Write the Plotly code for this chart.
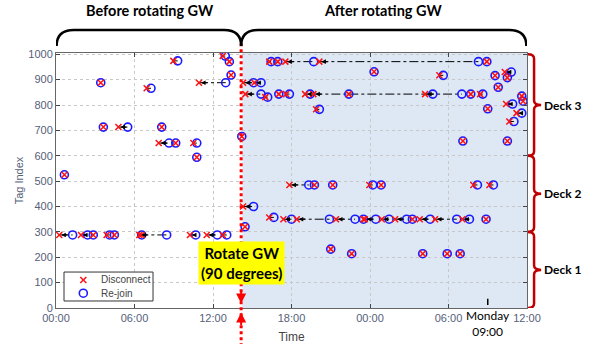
import plotly.graph_objects as go

# ---- data (hours since Sunday 00:00) ----
DISCONNECT_H = [
    0.64, 3.42, 3.62, 4.77, 6.93, 8.08, 8.97, 7.85, 9.15, 10.50, 10.76, 12.74, 13.25, 13.38, 10.93, 14.20,
    0.25, 1.91, 2.85, 3.87, 4.46, 6.37, 6.55, 10.24, 11.52, 12.75,
    14.30, 14.45, 14.30, 15.16,
    14.47, 16.00, 17.03, 17.58, 19.04, 19.67, 22.38, 28.21, 31.70, 32.42,
    16.30, 16.95, 17.53, 20.13, 32.93,
    19.88, 24.31, 29.30,
    17.84, 19.75, 21.15, 23.95, 24.85, 31.90, 33.13,
    16.30,
    17.38, 18.40, 21.40, 23.50, 23.60, 24.90, 25.92, 27.24, 27.80, 28.97, 31.06, 32.87,
    21.00, 22.60, 28.03, 29.90, 30.89,
    33.56, 34.30, 34.50, 33.80, 33.00, 35.60, 35.70, 34.40, 35.20, 34.65, 31.10, 34.50,
]
REJOIN_H = [
    0.64, 3.42, 3.62, 5.48, 7.26, 8.08, 9.30, 8.64, 9.15, 10.76, 10.76, 12.94, 13.25, 13.38, 12.97, 14.20,
    1.27, 2.42, 2.85, 4.10, 4.46, 8.46, 6.55, 10.68, 12.33, 13.05,
    15.10, 14.45, 15.10, 15.67,
    15.67, 16.18, 17.03, 17.84, 19.42, 28.80, 22.38, 31.02, 31.70, 32.62,
    16.44, 16.95, 19.70, 32.29, 32.93,
    20.13, 24.31, 29.60,
    19.32, 19.75, 21.15, 24.21, 24.85, 32.21, 33.43,
    16.65,
    18.00, 20.90, 22.86, 23.50, 24.44, 25.46, 26.80, 27.24, 28.60, 30.63, 31.60, 32.87,
    21.00, 22.60, 28.03, 29.90, 30.89,
    33.56, 34.80, 34.50, 33.80, 33.00, 35.60, 35.70, 34.90, 35.60, 35.00, 31.10, 34.50,
]
TAG_INDEX = [
    525, 888, 713, 713, 866, 713, 974, 650, 650, 650, 594, 993, 971, 918, 888, 676,
    288, 288, 288, 288, 288, 288, 288, 288, 288, 288,
    400, 320, 888, 888,
    843, 831, 843, 843, 843, 843, 843, 843, 843, 843,
    971, 971, 971, 971, 971,
    783, 931, 917,
    485, 485, 485, 485, 485, 485, 485,
    357,
    350, 350, 350, 350, 350, 350, 350, 350, 350, 350, 350, 350,
    232, 214, 214, 214, 214,
    916, 930, 908, 870, 785, 835, 815, 804, 768, 735, 658, 658,
]

X_TICK_VALS = [0, 6, 12, 18, 24, 30, 36]
X_TICK_TEXT = ["00:00", "06:00", "12:00", "18:00", "00:00", "06:00", "12:00"]
Y_TICK_VALS = list(range(0, 1001, 100))
ROTATE_H = 14.15
MONDAY_H = 33
DECKS = [("Deck 3", 600, 1000), ("Deck 2", 300, 600), ("Deck 1", 0, 300)]
LEGEND_LABELS = ["Disconnect", "Re-join"]

RED = "#ff1010"
BLUE = "#1a1aff"

# ---- figure ----
fig = go.Figure()

lx, ly = [], []
for d, r, t in zip(DISCONNECT_H, REJOIN_H, TAG_INDEX):
    if r - d > 0.05:
        lx += [d, r, None]
        ly += [t, t, None]
fig.add_trace(go.Scatter(x=lx, y=ly, mode="lines", showlegend=False, hoverinfo="skip",
                         line=dict(color="black", width=1, dash="dashdot")))

fig.add_trace(go.Scatter(x=REJOIN_H, y=TAG_INDEX, mode="markers", name=LEGEND_LABELS[1], showlegend=False,
                         marker=dict(symbol="circle-open", size=8, color=BLUE,
                                     line=dict(width=1.6, color=BLUE))))
fig.add_trace(go.Scatter(x=DISCONNECT_H, y=TAG_INDEX, mode="markers", name=LEGEND_LABELS[0], showlegend=False,
                         marker=dict(symbol="x-thin", size=6, color=RED,
                                     line=dict(width=1.5, color=RED))))

annotations = []
for d, r, t in zip(DISCONNECT_H, REJOIN_H, TAG_INDEX):
    if r - d >= 0.3:
        annotations.append(dict(x=d, y=t, ax=min(d + 0.75, r), ay=t, axref="x", ayref="y",
                                xref="x", yref="y", text="", showarrow=True, arrowhead=2,
                                arrowsize=0.7, arrowwidth=1.3, arrowcolor="black", standoff=2))

shapes = []
# shaded "after" region
shapes.append(dict(type="rect", xref="x", yref="paper", x0=ROTATE_H + 0.1, x1=X_TICK_VALS[-1],
                   y0=0, y1=1, fillcolor="#dde8f4", line=dict(width=0), layer="below"))
# rotation line
shapes.append(dict(type="line", xref="x", yref="paper", x0=ROTATE_H, x1=ROTATE_H,
                   y0=-0.15, y1=1.05, line=dict(color="red", width=3, dash="dot")))
# Monday 09:00 tick
shapes.append(dict(type="line", xref="x", yref="paper", x0=MONDAY_H, x1=MONDAY_H,
                   y0=0.012, y1=0.036, line=dict(color="black", width=1.5)))

# top braces (paper y)
def top_brace(x0, x1, yb, yt, rx):
    return (f"M {x0},{yb} Q {x0},{yt} {x0 + rx},{yt} L {x1 - rx},{yt} "
            f"Q {x1},{yt} {x1},{yb}")

shapes.append(dict(type="path", xref="x", yref="paper",
                   path=top_brace(0.05, ROTATE_H, 1.027, 1.09, 1.3),
                   line=dict(color="black", width=2.5)))
shapes.append(dict(type="path", xref="x", yref="paper",
                   path=top_brace(ROTATE_H, X_TICK_VALS[-1] - 0.05, 1.027, 1.09, 1.3),
                   line=dict(color="black", width=2.5)))

# right deck braces (paper x, data y)
def right_brace(lo, hi, x0=1.002, xm=1.015, x1=1.030, r=18):
    mid = (lo + hi) / 2
    return (f"M {x0},{hi} Q {xm},{hi} {xm},{hi - r} L {xm},{mid + r} "
            f"Q {xm},{mid} {x1},{mid} Q {xm},{mid} {xm},{mid - r} "
            f"L {xm},{lo + r} Q {xm},{lo} {x0},{lo}")

for name, lo, hi in DECKS:
    shapes.append(dict(type="path", xref="paper", yref="y", path=right_brace(lo, hi),
                       line=dict(color="#c00000", width=2.5)))
    annotations.append(dict(xref="paper", yref="y", x=1.034, y=(lo + hi) / 2, text=f"<b>{name}</b>",
                            showarrow=False, xanchor="left", yanchor="middle", borderpad=0,
                            font=dict(family="Lato", size=12, color="black")))

# compact legend box (drawn in paper space)
shapes.append(dict(type="rect", xref="paper", yref="paper", x0=0.017, x1=0.206, y0=0.0275, y1=0.141,
                   fillcolor="white", line=dict(color="#333", width=1), layer="above"))
lgx, lgy1, lgy2 = 0.058, 0.110, 0.058
dxp, dyp = 0.0064, 0.0118
shapes.append(dict(type="line", xref="paper", yref="paper", x0=lgx - dxp, x1=lgx + dxp,
                   y0=lgy1 - dyp, y1=lgy1 + dyp, line=dict(color=RED, width=1.5), layer="above"))
shapes.append(dict(type="line", xref="paper", yref="paper", x0=lgx - dxp, x1=lgx + dxp,
                   y0=lgy1 + dyp, y1=lgy1 - dyp, line=dict(color=RED, width=1.5), layer="above"))
shapes.append(dict(type="circle", xref="paper", yref="paper", x0=lgx - 0.0085, x1=lgx + 0.0085,
                   y0=lgy2 - 0.0157, y1=lgy2 + 0.0157, line=dict(color=BLUE, width=1.6), layer="above"))
for lbl, yy in zip(LEGEND_LABELS, [lgy1, lgy2]):
    annotations.append(dict(xref="paper", yref="paper", x=0.0934, y=yy, xanchor="left", yanchor="middle",
                            text=lbl, showarrow=False, borderpad=0,
                            font=dict(family="Liberation Sans", size=10, color="#444")))

annotations += [
    dict(xref="paper", yref="paper", x=0.2, y=1.165, xanchor="center", yanchor="middle",
         text="<b>Before rotating GW</b>", showarrow=False,
         font=dict(family="Lato", size=14.5, color="black")),
    dict(xref="paper", yref="paper", x=0.695, y=1.165, xanchor="center", yanchor="middle",
         text="<b>After rotating GW</b>", showarrow=False,
         font=dict(family="Lato", size=14.5, color="black")),
    dict(xref="x", yref="paper", x=ROTATE_H, y=0.176, xanchor="center", yanchor="middle",
         text="<b>Rotate GW<br>(90 degrees)</b>",
         showarrow=False, bgcolor="#ffff00", borderpad=2,
         font=dict(family="Lato", size=15, color="black")),
    dict(xref="x", yref="paper", x=ROTATE_H, y=0.018, ax=0, ay=-14, text="", showarrow=True,
         arrowhead=2, arrowsize=1, arrowwidth=2, arrowcolor="red"),
    dict(xref="x", yref="paper", x=ROTATE_H, y=-0.018, ax=0, ay=14, text="", showarrow=True,
         arrowhead=2, arrowsize=1, arrowwidth=2, arrowcolor="red"),
    dict(xref="x", yref="paper", x=MONDAY_H, y=0.008, xanchor="center", yanchor="top",
         text="Monday<br>09:00", showarrow=False,
         font=dict(family="Lato", size=12, color="black")),
]

axis_common = dict(showline=True, linecolor="#666", linewidth=1, mirror="ticks",
                   ticks="inside", ticklen=4, tickcolor="#444", automargin=False,
                   showgrid=True, gridcolor="#c8c8c8", griddash="dot", gridwidth=1,
                   zeroline=False, tickfont=dict(family="Liberation Sans", size=11, color="#55607a"))

fig.update_layout(
    width=593, height=344,
    margin=dict(l=56, r=66, t=53, b=36),
    paper_bgcolor="white", plot_bgcolor="white",
    showlegend=False,
    xaxis=dict(range=[0, 36], tickvals=X_TICK_VALS, ticktext=X_TICK_TEXT,
               title=dict(text="Time", standoff=9, font=dict(family="Liberation Sans", size=12, color="#444")),
               **axis_common),
    yaxis=dict(range=[0, 1005], tickvals=Y_TICK_VALS,
               title=dict(text="Tag Index", standoff=2, font=dict(family="Liberation Sans", size=11, color="#55607a")),
               **axis_common),
    shapes=shapes, annotations=annotations,
)

fig.write_html("out.html", config={"displayModeBar": False},
               post_script="document.body.style.margin='0px';")
